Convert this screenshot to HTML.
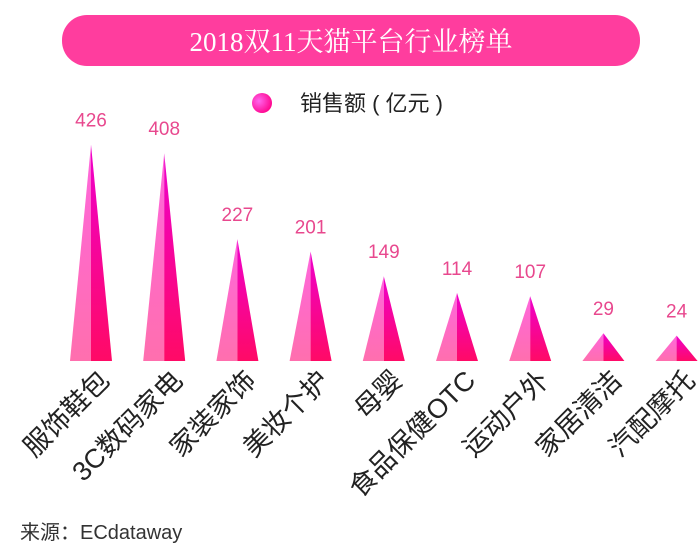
<!DOCTYPE html>
<html><head><meta charset="utf-8">
<style>
body{margin:0;width:700px;height:552px;background:#fff;overflow:hidden;font-family:"Liberation Sans","Noto Sans CJK SC",sans-serif;}
</style></head>
<body>
<svg id="chart" width="700" height="552" xmlns="http://www.w3.org/2000/svg">
<defs>
<linearGradient id="lg" x1="0" y1="0" x2="0" y2="1"><stop offset="0" stop-color="#ff66dd"/><stop offset="1" stop-color="#ff6fae"/></linearGradient>
<linearGradient id="rg" x1="0" y1="0" x2="0" y2="1"><stop offset="0" stop-color="#ee00cc"/><stop offset="1" stop-color="#ff0a66"/></linearGradient>
<radialGradient id="dot" cx="0.35" cy="0.4" r="0.7"><stop offset="0" stop-color="#ff66ee"/><stop offset="1" stop-color="#ff0088"/></radialGradient>
</defs>
<rect x="62" y="15" width="578" height="51" rx="25" fill="#ff3d9e"/>
<text x="351" y="51" text-anchor="middle" fill="#fff" font-size="27" font-family="'Liberation Serif','Noto Serif CJK SC',serif">2018双11天猫平台行业榜单</text>
<circle cx="262" cy="103" r="10" fill="url(#dot)"/>
<text x="300" y="111" font-size="22" fill="#222">销售额 ( 亿元 )</text>
<g id="marks"></g>
<text x="20" y="539" font-size="20" fill="#333">来源：ECdataway</text>
</svg>
<script>
const categories=["服饰鞋包","3C数码家电","家装家饰","美妆个护","母婴","食品保健OTC","运动户外","家居清洁","汽配摩托"];
const values=[426,408,227,201,149,114,107,29,24];
const baseY=361, halfW=21;
function xPos(i){return 91+i*73.2;}
function yPos(v){return baseY-(14+0.475*v);}
const g=document.getElementById('marks');
const NS="http://www.w3.org/2000/svg";
values.forEach((v,i)=>{
  const cx=xPos(i), top=yPos(v);
  const l=document.createElementNS(NS,'polygon');
  l.setAttribute('points',`${cx-halfW},${baseY} ${cx},${top} ${cx},${baseY}`);
  l.setAttribute('fill','url(#lg)');
  
  
  g.appendChild(l);
  const r=document.createElementNS(NS,'polygon');
  r.setAttribute('points',`${cx},${top} ${cx+halfW},${baseY} ${cx},${baseY}`);
  r.setAttribute('fill','url(#rg)');
  
  
  g.appendChild(r);
  const t=document.createElementNS(NS,'text');
  t.setAttribute('x',cx);t.setAttribute('y',top-18);
  t.setAttribute('text-anchor','middle');t.setAttribute('font-size','19');t.setAttribute('fill','#e8488e');
  t.textContent=v;
  
  
  g.appendChild(t);
  const c=document.createElementNS(NS,'text');
  const ax=cx+20, ay=382;
  c.setAttribute('x',ax);c.setAttribute('y',ay);
  c.setAttribute('text-anchor','end');c.setAttribute('font-size','27');c.setAttribute('fill','#222');
  c.setAttribute('transform',`rotate(-45 ${ax} ${ay})`);
  c.textContent=categories[i];
  
  
  g.appendChild(c);
});
</script>
</body></html>
